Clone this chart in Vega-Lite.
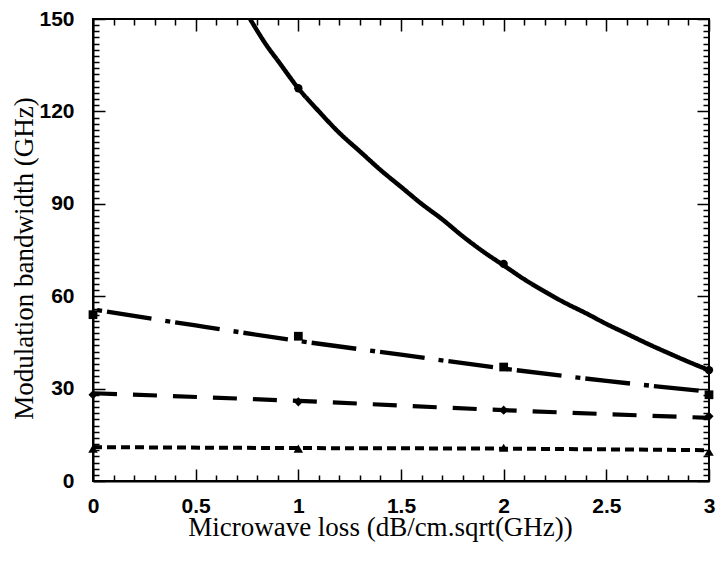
{
  "$schema": "https://vega.github.io/schema/vega-lite/v6.json",
  "autosize": "none",
  "width": 616,
  "height": 462,
  "padding": {"left": 93, "top": 19, "right": 7, "bottom": 81},
  "background": "white",
  "config": {
    "view": {"stroke": "black", "strokeWidth": 2},
    "axis": {
      "domainColor": "black",
      "domainWidth": 2,
      "labelFont": "Liberation Sans",
      "labelFontSize": 21,
      "labelFontWeight": "bold",
      "labelColor": "black",
      "titleFont": "Liberation Serif",
      "titleFontSize": 27,
      "titleFontWeight": "normal",
      "titleColor": "black"
    }
  },
  "datasets": {
    "lines": [
      {"series": "solid", "x": 0.765, "y": 150},
      {"series": "solid", "x": 0.85, "y": 141},
      {"series": "solid", "x": 0.9, "y": 136.5},
      {"series": "solid", "x": 1.0, "y": 127.5},
      {"series": "solid", "x": 1.1, "y": 120},
      {"series": "solid", "x": 1.2, "y": 113},
      {"series": "solid", "x": 1.3, "y": 107},
      {"series": "solid", "x": 1.4, "y": 101},
      {"series": "solid", "x": 1.5, "y": 95.5},
      {"series": "solid", "x": 1.6, "y": 90},
      {"series": "solid", "x": 1.7, "y": 85},
      {"series": "solid", "x": 1.8, "y": 79.5},
      {"series": "solid", "x": 1.9, "y": 74.5},
      {"series": "solid", "x": 2.0, "y": 70},
      {"series": "solid", "x": 2.1, "y": 65.5},
      {"series": "solid", "x": 2.2, "y": 61.5},
      {"series": "solid", "x": 2.3, "y": 57.8},
      {"series": "solid", "x": 2.4, "y": 54.5},
      {"series": "solid", "x": 2.5, "y": 51},
      {"series": "solid", "x": 2.6, "y": 47.8},
      {"series": "solid", "x": 2.7, "y": 44.6},
      {"series": "solid", "x": 2.8, "y": 41.6},
      {"series": "solid", "x": 2.9, "y": 38.7},
      {"series": "solid", "x": 3.0, "y": 36},
      {"series": "dashdot", "x": 0.02, "y": 55.5},
      {"series": "dashdot", "x": 0.5, "y": 50.5},
      {"series": "dashdot", "x": 1.0, "y": 45.5},
      {"series": "dashdot", "x": 1.5, "y": 41},
      {"series": "dashdot", "x": 2.0, "y": 36.5},
      {"series": "dashdot", "x": 2.5, "y": 32.5},
      {"series": "dashdot", "x": 3.0, "y": 29},
      {"series": "dashed", "x": 0.0, "y": 28.5},
      {"series": "dashed", "x": 1.0, "y": 26},
      {"series": "dashed", "x": 2.0, "y": 23},
      {"series": "dashed", "x": 3.0, "y": 20.5},
      {"series": "dotted", "x": 0.0, "y": 11},
      {"series": "dotted", "x": 1.0, "y": 10.7},
      {"series": "dotted", "x": 2.0, "y": 10.5},
      {"series": "dotted", "x": 3.0, "y": 10}
    ],
    "points": [
      {"shape": "circle", "x": 1, "y": 127.5},
      {"shape": "circle", "x": 2, "y": 70.5},
      {"shape": "circle", "x": 3, "y": 36},
      {"shape": "square", "x": 0, "y": 54},
      {"shape": "square", "x": 1, "y": 47},
      {"shape": "square", "x": 2, "y": 37},
      {"shape": "square", "x": 3, "y": 28},
      {"shape": "diamond", "x": 0, "y": 28},
      {"shape": "diamond", "x": 1, "y": 25.7},
      {"shape": "diamond", "x": 2, "y": 23},
      {"shape": "diamond", "x": 3, "y": 21},
      {"shape": "triangle-up", "x": 0, "y": 10.5},
      {"shape": "triangle-up", "x": 1, "y": 10.5},
      {"shape": "triangle-up", "x": 2, "y": 10.8},
      {"shape": "triangle-up", "x": 3, "y": 9.5}
    ]
  },
  "encoding": {
    "x": {
      "field": "x", "type": "quantitative",
      "scale": {"domain": [0, 3], "nice": false, "zero": false},
      "axis": {
        "orient": "bottom",
        "title": "Microwave loss (dB/cm.sqrt(GHz))",
        "values": [0,0.1,0.2,0.3,0.4,0.5,0.6,0.7,0.8,0.9,1,1.1,1.2,1.3,1.4,1.5,1.6,1.7,1.8,1.9,2,2.1,2.2,2.3,2.4,2.5,2.6,2.7,2.8,2.9,3],
        "labelExpr": "round(datum.value*10) % 5 === 0 ? format(datum.value, '~g') : ''",
        "ticks": false,
        "grid": true,
        "gridColor": "black",
        "gridOpacity": 1,
        "gridWidth": 1.5,
        "gridDash": {"condition": {"test": "round(datum.value*10) % 5 === 0", "value": [12, 438, 12, 1000]}, "value": [6, 450, 6, 1000]},
        "labelPadding": 14,
        "labelFlush": false,
        "labelOverlap": false,
        "titlePadding": -2,
        "titleX": 287
      }
    },
    "y": {
      "field": "y", "type": "quantitative",
      "scale": {"domain": [0, 150], "nice": false},
      "axis": {
        "orient": "left",
        "title": "Modulation bandwidth (GHz)",
        "values": [0,2,4,6,8,10,12,14,16,18,20,22,24,26,28,30,32,34,36,38,40,42,44,46,48,50,52,54,56,58,60,62,64,66,68,70,72,74,76,78,80,82,84,86,88,90,92,94,96,98,100,102,104,106,108,110,112,114,116,118,120,122,124,126,128,130,132,134,136,138,140,142,144,146,148,150],
        "labelExpr": "datum.value % 30 === 0 ? datum.label : ''",
        "ticks": false,
        "grid": true,
        "gridColor": "black",
        "gridOpacity": 1,
        "gridWidth": 1.5,
        "gridDash": {"condition": {"test": "datum.value % 30 === 0", "value": [12, 592, 12, 1000]}, "value": [6, 604, 6, 1000]},
        "labelPadding": 19,
        "labelFlush": false,
        "labelOverlap": false,
        "titlePadding": 0,
        "titleY": 239
      }
    }
  },
  "layer": [
    {
      "data": {"name": "lines"},
      "mark": {"type": "line", "color": "black", "strokeCap": "butt", "interpolate": "monotone"},
      "encoding": {
        "detail": {"field": "series"},
        "strokeDash": {
          "field": "series", "type": "nominal",
          "scale": {"domain": ["solid", "dashdot", "dashed", "dotted"], "range": [[1, 0], [5, 5, 45, 14], [24, 16], [9, 5]]},
          "legend": null
        },
        "strokeWidth": {
          "field": "series", "type": "nominal",
          "scale": {"domain": ["solid", "dashdot", "dashed", "dotted"], "range": [4.5, 4, 4, 3.5]},
          "legend": null
        }
      }
    },
    {
      "data": {"name": "points"},
      "mark": {"type": "point", "filled": true, "color": "black", "opacity": 1},
      "encoding": {
        "shape": {
          "field": "shape", "type": "nominal",
          "scale": {"domain": ["circle", "square", "diamond", "triangle-up"], "range": ["circle", "square", "diamond", "triangle-up"]},
          "legend": null
        },
        "size": {
          "field": "shape", "type": "nominal",
          "scale": {"domain": ["circle", "square", "diamond", "triangle-up"], "range": [70, 90, 80, 80]},
          "legend": null
        }
      }
    }
  ]
}
